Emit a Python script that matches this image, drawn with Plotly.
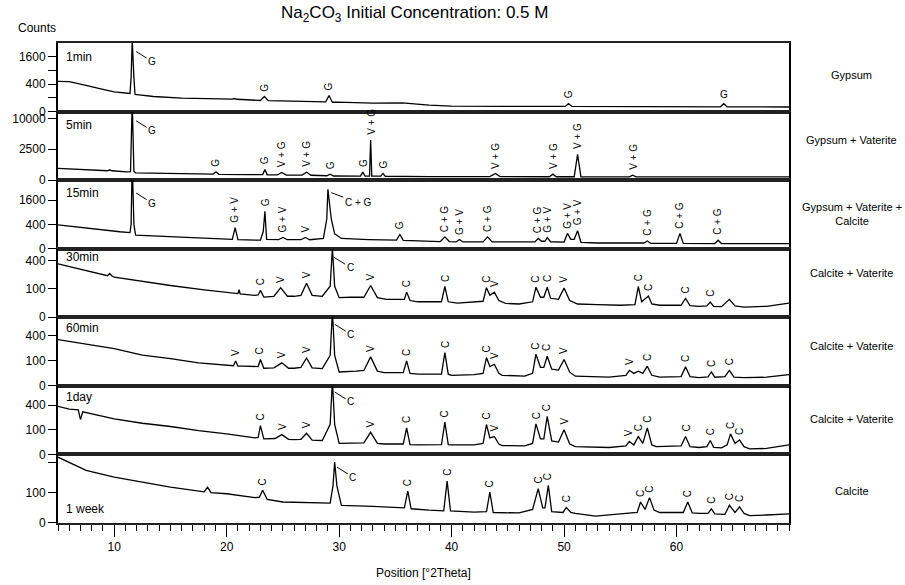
import numpy as np
import plotly.graph_objects as go

FONT = "Arial, 'Liberation Sans', sans-serif"

# ---------------- data (2Theta, counts) ----------------
p1_x = [5, 6, 7, 8, 9, 10, 11, 11.4, 11.5, 11.6, 11.75, 11.85, 12.2, 13.5, 16, 18, 20.5, 20.7, 20.9, 23.0, 23.35, 23.7,
        26.7, 28.8, 29.1, 29.4, 29.8, 33, 35.6, 38, 40, 43, 46, 50.1, 50.4, 50.7, 55, 60, 63.9, 64.2, 64.5, 67, 70]
p1_y = [480, 470, 400, 320, 260, 205, 180, 172, 600, 2700, 600, 155, 147, 120, 95, 86, 82, 90, 80, 65, 120, 62,
        55, 50, 135, 46, 48, 38, 39, 22, 16, 14, 14, 14, 33, 14, 13, 12, 12, 33, 12, 12, 11]

p2_x = [5, 7.5, 9.4, 9.6, 9.8, 11.1, 11.45, 11.6, 11.75, 11.9, 15, 18.8, 19.05, 19.3, 22, 23.2, 23.4, 23.6, 24.5, 24.9, 25.3,
        26.7, 27.1, 27.5, 28.9, 29.2, 29.5, 31, 31.9, 32.1, 32.3, 32.7, 32.8, 32.9, 33.7, 33.9, 34.1, 38, 43.4, 43.9, 44.3,
        48.7, 49.0, 49.3, 50.9, 51.2, 51.5, 55.8, 56.1, 56.4, 60, 65, 70]
p2_y = [360, 300, 230, 280, 230, 180, 190, 16000, 200, 140, 118, 95, 180, 90, 79, 80, 300, 75, 70, 155, 68,
        66, 160, 62, 50, 95, 45, 42, 42, 168, 42, 44, 4200, 44, 42, 118, 40, 32, 32, 118, 32,
        30, 95, 30, 30, 1735, 30, 29, 66, 29, 29, 29, 29]

p3_x = [5, 7.5, 10.5, 11.4, 11.5, 11.6, 11.75, 11.9, 15, 20, 20.5, 20.75, 21.0, 23.0, 23.25, 23.4, 23.55, 24.6, 25.0, 25.4,
        26.6, 27.0, 27.4, 28.6, 28.9, 29.0, 29.3, 29.6, 30.2, 32.6, 35.1, 35.4, 35.7, 39.0, 39.4, 39.8, 40.4, 40.7, 41.0,
        42.8, 43.2, 43.6, 47.4, 47.7, 48.0, 48.3, 48.5, 48.8, 50.0, 50.3, 50.6, 50.9, 51.2, 51.5, 53, 56, 57.1, 57.4, 57.7,
        60.0, 60.3, 60.6, 63.4, 63.7, 64.0, 67, 70]
p3_y = [385, 282, 195, 175, 400, 5000, 400, 125, 95, 58, 60, 300, 55, 49, 200, 950, 60, 55, 85, 55,
        55, 85, 55, 71, 600, 2400, 600, 150, 71, 57, 50, 138, 48, 35, 95, 35, 31, 57, 31,
        31, 95, 31, 31, 71, 38, 38, 85, 33, 30, 159, 60, 60, 219, 28, 22, 22, 22, 41, 20,
        19, 159, 19, 18, 49, 18, 18, 18]

p4_x = [5, 7.5, 9.4, 9.6, 9.8, 10, 12, 15, 18, 20, 21.0, 21.1, 21.2, 22.5, 22.8, 23.0, 23.3, 24.2, 24.8, 25.4,
        26.0, 26.6, 27.1, 27.6, 28.5, 29.2, 29.4, 29.6, 30.0, 31.0, 32.2, 32.8, 33.4, 34.2, 35.8, 36.0, 36.3, 37.0,
        39.1, 39.4, 39.7, 40.5, 42.0, 42.8, 43.1, 43.4, 43.8, 44.2, 44.8, 46.0, 47.2, 47.5, 47.9, 48.2, 48.5, 48.8,
        49.5, 50.0, 50.5, 51.2, 53, 55, 56.3, 56.6, 56.9, 57.2, 57.5, 57.8, 58.5, 60.4, 60.8, 61.2, 62, 62.7, 63.0,
        63.3, 64.0, 64.7, 65.2, 66, 68, 70]
p4_y = [355, 272, 215, 240, 212, 200, 168, 126, 94, 79, 70, 95, 68, 60, 62, 90, 51, 55, 109, 55,
        55, 60, 145, 60, 55, 120, 600, 120, 48, 50, 50, 126, 48, 40, 40, 79, 35, 30,
        30, 118, 30, 25, 28, 32, 109, 60, 79, 35, 24, 22, 30, 113, 50, 50, 113, 45,
        40, 106, 35, 22, 20, 18, 20, 118, 30, 40, 56, 22, 18, 18, 44, 17, 15, 16, 29,
        15, 14, 40, 16, 13, 15, 25]

p5_x = [5, 7.5, 10, 12.5, 15, 17.5, 20, 20.6, 20.8, 21.0, 21.5, 22.5, 22.8, 23.0, 23.3, 24.2, 24.9, 25.5, 26.0, 26.6,
        27.1, 27.6, 28.5, 29.2, 29.4, 29.6, 30.0, 31.5, 32.2, 32.8, 33.4, 34.0, 35.7, 36.0, 36.3, 37.0, 39.1, 39.4,
        39.7, 40.0, 42.0, 42.8, 43.1, 43.4, 43.8, 44.2, 44.5, 46.5, 47.2, 47.5, 47.9, 48.2, 48.5, 48.9, 49.5, 50.0,
        50.5, 51.0, 54, 55.5, 55.8, 56.2, 56.6, 57.0, 57.4, 57.8, 58.5, 60.4, 60.8, 61.2, 62, 62.8, 63.1, 63.4, 64.3,
        64.7, 65.1, 66, 68, 70]
p5_y = [345, 278, 224, 151, 120, 85, 69, 65, 100, 62, 62, 58, 60, 112, 50, 52, 85, 50, 50, 55,
        125, 52, 48, 150, 900, 150, 31, 35, 38, 135, 35, 28, 28, 100, 25, 22, 22, 178,
        22, 18, 20, 25, 129, 60, 75, 25, 18, 15, 25, 161, 55, 55, 141, 45, 40, 112,
        30, 15, 12, 18, 39, 25, 35, 25, 62, 18, 12, 14, 58, 14, 11, 13, 31, 12, 14,
        39, 12, 11, 12, 20]

p6_x = [5, 6, 6.8, 7.0, 7.2, 10, 12.5, 15, 17.5, 20, 22.5, 22.8, 23.0, 23.3, 24.3, 24.9, 25.5, 26.0, 26.6, 27.1,
        27.6, 28.5, 29.2, 29.4, 29.6, 30.0, 32.2, 32.8, 33.4, 34.0, 35.7, 36.0, 36.3, 37.0, 39.1, 39.4, 39.7, 40.0,
        42.0, 42.8, 43.1, 43.4, 43.8, 44.2, 44.5, 46.5, 47.2, 47.5, 47.9, 48.2, 48.5, 48.9, 49.5, 50.0, 50.5, 51.0,
        54, 55.5, 55.8, 56.2, 56.6, 57.0, 57.4, 57.8, 58.2, 60.4, 60.8, 61.2, 62, 62.7, 63.0, 63.3, 64.0, 64.5, 64.8,
        65.2, 65.6, 66.0, 66.5, 68, 70]
p6_y = [382, 340, 330, 200, 300, 210, 161, 129, 94, 70, 45, 48, 138, 40, 42, 65, 38, 36, 38, 74,
        34, 32, 150, 900, 150, 20, 22, 81, 20, 18, 18, 117, 16, 15, 16, 172, 16, 15,
        15, 20, 148, 45, 53, 18, 13, 12, 20, 155, 40, 40, 239, 30, 25, 100, 18, 10,
        8, 12, 28, 15, 53, 20, 117, 15, 10, 12, 53, 10, 8, 10, 32, 8, 7, 15, 70,
        20, 35, 10, 5, 6, 15]

p7_x = [5, 6, 7.5, 10, 12.5, 15, 18, 18.3, 18.6, 20, 22.5, 22.9, 23.2, 23.6, 25, 27, 29.2, 29.45, 29.6, 29.8, 30.2,
        33, 35.8, 36.1, 36.4, 38, 39.3, 39.6, 39.9, 42, 43.1, 43.4, 43.7, 46, 47.2, 47.7, 48.1, 48.3, 48.6, 48.9,
        49.5, 49.9, 50.2, 50.6, 51, 52.8, 55, 56.5, 56.8, 57.2, 57.6, 58.0, 58.5, 60.6, 61.0, 61.4, 62, 62.8, 63.1,
        63.4, 64.3, 64.7, 65.2, 65.6, 66.0, 66.5, 68, 70]
p7_y = [471, 400, 300, 229, 182, 140, 105, 140, 100, 93, 70, 72, 116, 60, 48, 45, 43, 150, 403, 150, 34,
        30, 25, 111, 22, 18, 16, 191, 16, 13, 14, 104, 12, 11, 20, 128, 25, 25, 154, 14,
        12, 12, 26, 12, 10, 5, 9, 12, 48, 20, 70, 18, 12, 12, 48, 11, 10, 10, 22,
        9, 8, 34, 12, 28, 10, 6, 7, 9]

panel_names = ["1min", "5min", "15min", "30min", "60min", "1day", "1 week"]
phase_names = ["Gypsum", "Gypsum + Vaterite", "Gypsum + Vaterite +<br>Calcite", "Calcite + Vaterite",
               "Calcite + Vaterite", "Calcite + Vaterite", "Calcite"]

# peak labels (2Theta, phase label)
p1_lab = [(23.35, "G"), (29.1, "G"), (50.4, "G")]
p2_lab = [(19.05, "G"), (23.4, "G"), (24.9, "V + G"), (27.1, "V + G"), (29.2, "G"), (32.1, "G"), (32.8, "V + G"),
          (33.9, "G"), (43.9, "V + G"), (49.0, "V + G"), (51.2, "V + G"), (56.1, "V + G")]
p3_lab = [(20.75, "G + V"), (23.4, "G"), (25.0, "G + V"), (27.0, "V"), (35.4, "G"), (39.4, "C + G"), (40.7, "G + V"),
          (43.2, "C + G"), (47.7, "C + G"), (48.5, "G + V"), (50.3, "G + V"), (51.2, "G + V"), (57.4, "C + G"),
          (60.3, "C + G"), (63.7, "C + G")]
p4_lab = [(23.0, "C"), (24.8, "V"), (27.1, "V"), (32.8, "V"), (36.0, "C"), (39.4, "C"), (43.1, "C"), (43.8, "V"),
          (47.5, "C"), (48.5, "C"), (50.0, "V"), (56.6, "C"), (57.5, "C"), (60.8, "C"), (63.0, "C")]
p5_lab = [(20.8, "V"), (23.0, "C"), (24.9, "V"), (27.1, "V"), (32.8, "V"), (36.0, "C"), (39.4, "C"), (43.1, "C"),
          (43.8, "V"), (47.5, "C"), (48.5, "C"), (50.0, "V"), (55.8, "V"), (57.4, "C"), (60.8, "C"), (63.1, "C"),
          (64.7, "C")]
p6_lab = [(23.0, "C"), (24.9, "V"), (27.1, "V"), (32.8, "V"), (36.0, "C"), (39.4, "C"), (43.1, "C"), (43.8, "V"),
          (47.5, "C"), (48.5, "C"), (50.0, "V"), (55.8, "V"), (56.6, "C"), (57.4, "C"), (60.8, "C"), (63.0, "C"),
          (64.8, "C"), (65.6, "C")]
p7_lab = [(23.2, "C"), (36.1, "C"), (39.6, "C"), (43.4, "C"), (47.7, "C"), (48.6, "C"), (50.2, "C"), (56.8, "C"),
          (57.6, "C"), (61.0, "C"), (63.1, "C"), (64.7, "C"), (65.6, "C")]
p1_flat_lab = [(64.2, "G")]

# main-peak labels with leader lines (2Theta, counts, text)
leaders = [
    [(11.95, 1900, "G")],
    [(11.95, 9200, "G")],
    [(11.95, 2100, "G"), (29.3, 2130, "C + G")],
    [(29.55, 448, "C")],
    [(29.6, 610, "C")],
    [(29.6, 645, "C")],
    [(29.8, 340, "C")],
]

# y tick values (counts) and labels
yticks = [
    ([0, 100, 400, 900, 1600], ["0", "", "400", "", "1600"]),
    ([0, 2500, 10000], ["0", "2500", "10000"]),
    ([0, 400, 1600], ["0", "400", "1600"]),
    ([0, 100, 400], ["0", "100", "400"]),
    ([0, 100, 400], ["0", "100", "400"]),
    ([0, 100, 400], ["0", "100", "400"]),
    ([0, 100, 400], ["0", "100", ""]),
]
ymax = [2480, 12300, 3190, 586, 756, 778, 511]   # top of each panel (counts)

xs = [p1_x, p2_x, p3_x, p4_x, p5_x, p6_x, p7_x]
ys = [p1_y, p2_y, p3_y, p4_y, p5_y, p6_y, p7_y]
labs = [p1_lab, p2_lab, p3_lab, p4_lab, p5_lab, p6_lab, p7_lab]

# ---------------- layout geometry ----------------
W, H = 905, 585
L, R, T, B = 54, 116, 43, 62
N = 7
fig = go.Figure()

def ax(name, i):
    return name if i == 0 else f"{name}{i+1}"

for i in range(N):
    fig.add_trace(go.Scatter(
        x=xs[i], y=np.sqrt(np.array(ys[i], dtype=float)), mode="lines",
        line=dict(color="black", width=1.3), xaxis=ax("x", i), yaxis=ax("y", i),
        hoverinfo="skip", showlegend=False))

layout = dict(
    width=W, height=H, margin=dict(l=L, r=R, t=T, b=B),
    paper_bgcolor="white", plot_bgcolor="white", showlegend=False,
    font=dict(family=FONT, size=11, color="black"),
)
annotations = []
for i in range(N):
    lo = 1 - (i + 1) / N
    hi = 1 - i / N
    xa = dict(range=[5, 70], anchor=ax("y", i), showline=True, mirror=True, linecolor="#222",
              linewidth=1.6, showgrid=False, zeroline=False, fixedrange=True)
    if i > 0:
        xa["matches"] = "x"
    if i == N - 1:
        xa.update(ticks="outside", ticklen=12, tickwidth=1.4, tickcolor="black",
                  tickvals=[10, 20, 30, 40, 50, 60], ticktext=["10", "20", "30", "40", "50", "60"],
                  tickfont=dict(size=12, family=FONT),
                  minor=dict(ticks="outside", ticklen=6, tickwidth=1.2, tickcolor="black", dtick=1, tick0=0))
    else:
        xa.update(showticklabels=False, ticks="")
    tv, tt = yticks[i]
    ya = dict(domain=[lo, hi], range=[0, np.sqrt(ymax[i])], anchor=ax("x", i), showline=True, mirror=True,
              linecolor="black", linewidth=2, showgrid=False, zeroline=False, ticks="outside", ticklen=8,
              tickwidth=1.4, tickcolor="black", tickvals=list(np.sqrt(tv)), ticktext=tt,
              tickfont=dict(size=12, family=FONT), fixedrange=True)
    layout["xaxis" if i == 0 else f"xaxis{i+1}"] = xa
    layout["yaxis" if i == 0 else f"yaxis{i+1}"] = ya

    # peak labels
    xr = np.array(xs[i], dtype=float)
    yr = np.array(ys[i], dtype=float)
    for (px, txt) in labs[i]:
        m = np.abs(xr - px) <= 0.2
        top = yr[m].max() if m.any() else np.interp(px, xr, yr)
        annotations.append(dict(x=px, y=np.sqrt(top), xref=ax("x", i), yref=ax("y", i), text=txt,
                                textangle=-90, showarrow=False, yanchor="bottom", xanchor="center",
                                yshift=3, font=dict(size=10, family=FONT, color="black")))
    if i == 0:
        for (px, txt) in p1_flat_lab:
            m = np.abs(xr - px) <= 0.2
            top = yr[m].max()
            annotations.append(dict(x=px, y=np.sqrt(top), xref="x", yref="y", text=txt, showarrow=False,
                                    yanchor="bottom", yshift=2, font=dict(size=10, family=FONT)))
    for (px, cnt, txt) in leaders[i]:
        dx = 27 if len(txt) > 1 else 16
        annotations.append(dict(x=px, y=np.sqrt(cnt), xref=ax("x", i), yref=ax("y", i), text=txt,
                                showarrow=True, arrowhead=0, arrowwidth=1, arrowcolor="black",
                                ax=dx, ay=10, standoff=0, font=dict(size=10, family=FONT)))
    # panel name
    name_py = [56.7, 125, 193.3, 256.7, 327.7, 397.3, 509][i]
    annotations.append(dict(x=(60 - L) / (W - L - R), y=(H - B - name_py) / (H - T - B), xref="paper", yref="paper",
                            text=panel_names[i], showarrow=False, xanchor="left", yanchor="middle",
                            font=dict(size=12, family=FONT)))
    # phase label on the right
    phase_py = [75, 140, 214, 273, 346, 419, 491][i]
    annotations.append(dict(x=(852 - L) / (W - L - R), y=(H - B - phase_py) / (H - T - B), xref="paper",
                            yref="paper", text=phase_names[i], showarrow=False, xanchor="center",
                            yanchor="middle", font=dict(size=11, family=FONT)))

# titles
annotations.append(dict(x=(276 - L) / (W - L - R), y=(H - B - 14) / (H - T - B), xref="paper", yref="paper",
                        text="Na<sub>2</sub>CO<sub>3</sub> Initial Concentration: 0.5 M", showarrow=False,
                        xanchor="left", yanchor="middle", font=dict(size=17, family=FONT)))
annotations.append(dict(x=(12 - L) / (W - L - R), y=(H - B - 28) / (H - T - B), xref="paper", yref="paper",
                        text="Counts", showarrow=False, xanchor="left", yanchor="middle",
                        font=dict(size=12, family=FONT)))
annotations.append(dict(x=0.5, y=(H - B - 573) / (H - T - B), xref="paper", yref="paper",
                        text="Position [°2Theta]", showarrow=False, xanchor="center", yanchor="middle",
                        font=dict(size=12, family=FONT)))
layout["annotations"] = annotations
fig.update_layout(**layout)
fig.write_html("out.html")
